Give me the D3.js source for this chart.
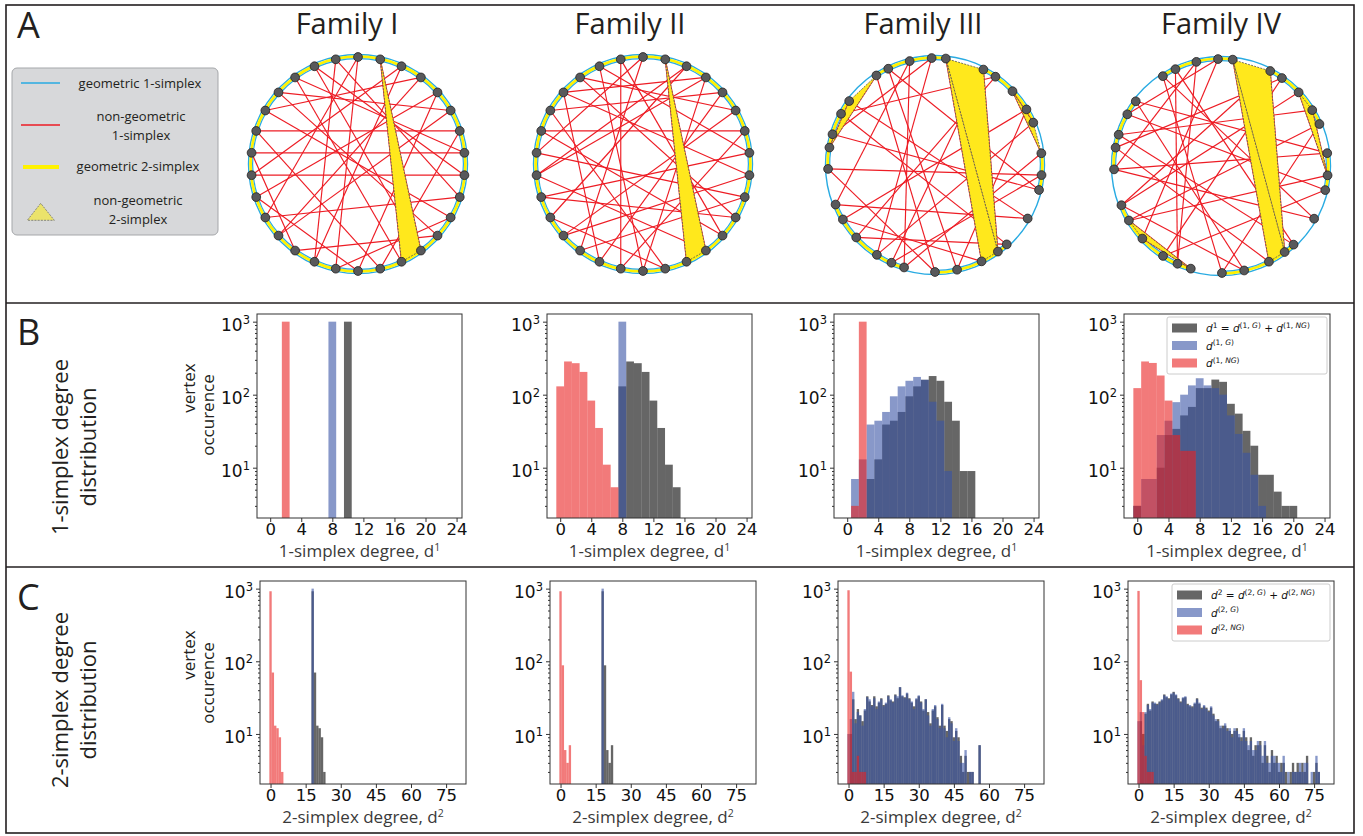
<!DOCTYPE html>
<html><head><meta charset="utf-8">
<script src="https://cdn.jsdelivr.net/npm/d3@7"></script>
<style>body{margin:0;background:#fff}svg{display:block}</style>
</head><body>
<script>
// ---------------- data ----------------
const familyNames = ["Family I", "Family II", "Family III", "Family IV"];

// vertex positions on the ring (degrees, clockwise from 12 o'clock)
const nodeAnglesI   = [0,12,24,36,48,60,72,84,96,108,120,132,144,156,168,180,192,204,216,228,240,252,264,276,288,300,312,324,336,348];
const nodeAnglesII  = [0,12,24,36,48,60,72,84,96,108,120,132,144,156,168,180,192,204,216,228,240,252,264,276,288,300,312,324,336,348];
const nodeAnglesIII = [-13.7,-1.8,5.8,26.9,34.4,46.4,58.7,66.7,83.7,95.4,103.5,120,137.9,144,154.2,168.1,180,196.8,204,212.9,227.4,239.4,248.3,267.9,279.4,286.7,298.6,306.7,326.8,334.1];
const nodeAnglesIV  = [-13.3,-1.6,6.3,27.4,34.7,46.5,58.5,66.9,83.1,95,103,119.5,137.3,143.5,153.4,167.5,179.5,196.4,204,212.8,227.3,239.4,248.5,268.2,279.9,287,298.9,307.2,327.1,334.8];

// ring arcs that are missing (index i = arc from node i to node i+1)
const ringBreaksI = [];
const ringBreaksII = [];
const ringBreaksIII = [2,7,10,11,16,22,27];
const ringBreaksIV = [2,7,10,11,16,22,27];

// non-geometric 1-simplices (node index pairs)
const chordsI = [[1,12],[1,13],[0,16],[0,20],[2,17],[2,22],[3,19],[3,25],[4,21],[4,15],[5,19],[5,26],[6,24],[6,14],[7,23],[7,27],[8,22],[8,28],[9,20],[9,29],[10,25],[10,16],[11,26],[11,18],[12,28],[13,27],[14,24],[15,21],[17,29],[18,23]];
const chordsII = [[1,12],[1,13],[0,18],[0,23],[2,20],[3,15],[3,22],[3,26],[4,17],[4,25],[5,19],[6,24],[6,16],[7,21],[7,28],[8,26],[9,18],[9,23],[10,21],[10,27],[11,24],[11,29],[14,25],[14,20],[15,28],[16,29],[17,26],[19,8],[22,2],[5,27],[12,22]];
const chordsIII = [[2,13],[2,14],[3,13],[24,28],[24,27],[5,7],[5,8],[0,17],[0,22],[1,19],[1,25],[4,20],[4,26],[6,21],[6,15],[9,23],[9,18],[10,25],[10,29],[11,22],[11,27],[12,26],[12,20],[15,29],[16,23],[16,28],[17,8],[18,3],[19,7],[21,14]];
const chordsIV = [[2,13],[2,14],[3,13],[5,9],[6,9],[21,17],[20,17],[0,18],[0,23],[1,20],[1,26],[3,22],[4,19],[4,24],[6,25],[7,21],[7,16],[8,23],[8,27],[10,26],[10,19],[11,28],[11,23],[12,25],[12,29],[14,24],[15,27],[15,22],[16,28],[18,29],[21,9],[22,5]];

// non-geometric 2-simplices (node index triples)
const trianglesI = [[1,12,13]];
const trianglesII = [[1,12,13]];
const trianglesIII = [[2,3,13],[2,13,14],[24,27,28],[5,7,8]];
const trianglesIV = [[2,3,13],[2,13,14],[5,6,9],[21,20,17]];

// 1-simplex degree histograms (index = degree, value = vertex count)
const d1TotalI  = [0,0,0,0,0,0,0,0,0,0,1000];
const d1GeoI    = [0,0,0,0,0,0,0,0,1000];
const d1NonGeoI = [0,0,1000];

const d1TotalII  = [0,0,0,0,0,0,0,0,130,285,270,205,83,35,11,5.4];
const d1GeoII    = [0,0,0,0,0,0,0,0,1000];
const d1NonGeoII = [130,285,270,205,83,35,11,5.4];

const d1TotalIII  = [0,0,0,7,13,39,44,58,95,130,160,180,155,80,44,9,9];
const d1GeoIII    = [0,7,13,39,44,58,95,130,155,175,160,80,44,9];
const d1NonGeoIII = [0,3,1000];

const d1TotalIV  = [3,0,0,10,28,34,52,68,123,123,161,150,75,55,32,20,8,8,4.7,3,3];
const d1GeoIV    = [3,7,7,28,44,79,100,134,168,134,123,100,52,29,16,8,3];
const d1NonGeoIV = [123,285,272,183,83,28,17,17];

// 2-simplex degree histograms
const d2TotalI  = [0,0,0,0,0,0,0,0,0,0,0,0,0,0,0,0,0,0,920,70,13,12,9,3];
const d2GeoI    = [0,0,0,0,0,0,0,0,0,0,0,0,0,0,0,0,0,0,1000];
const d2NonGeoI = [920,70,13,12,9,3];

const d2TotalII  = [0,0,0,0,0,0,0,0,0,0,0,0,0,0,0,0,0,0,920,88,6,4,7];
const d2GeoII    = [0,0,0,0,0,0,0,0,0,0,0,0,0,0,0,0,0,0,1000];
const d2NonGeoII = [920,88,6,4,7];

const d2GeoIII    = [10,16,38,14,20,18,13,22,32,30,24,31,22,28,30,24,27,33,30,27,34,33,44,34,31,37,30,28,22,31,34,27,22,30,18,13,22,25,16,12,26,12,9,17,14,8,12,8,4,4,6,0,3,3,0,0,7];
const d2TotalIII  = [0,10,30,16,22,18,15,21,33,28,25,33,24,27,31,25,26,34,29,28,35,31,44,33,32,36,31,27,24,30,33,28,21,30,20,14,21,24,17,13,25,13,11,16,15,9,11,9,5,3,5,3,3,3,0,0,7];
const d2NonGeoIII = [950,72,3,3,5,3,3,3];

const d2GeoIV    = [15,20,7,20,25,22,27,27,25,27,30,34,33,30,36,37,35,30,27,32,33,25,25,23,27,30,27,22,25,22,20,24,18,16,15,13,12,14,11,12,9,12,11,10,8,12,8,7,8,6,6,8,7,5,8,4,4,5,5,4,4,3,5,0,3,0,3,3,3,4,3,4,4,0,3,0,5,3];
const d2TotalIV  = [0,15,10,19,26,21,28,26,26,28,29,35,32,31,35,38,34,31,28,31,32,26,24,24,26,31,26,23,24,23,21,23,19,15,16,12,13,13,12,11,10,11,12,9,9,11,9,6,9,5,7,7,8,4,7,5,3,6,4,5,3,4,4,3,0,3,4,3,4,3,4,3,5,0,0,3,4,3];
const d2NonGeoIV = [930,55,20,5,3,3,3];

const d1Ticks = [0,4,8,12,16,20,24];
const d2Ticks = [0,15,30,45,60,75];
const yMajorTicks = [10,100,1000];
const yMinorTicks = [3,4,5,6,7,8,9,20,30,40,50,60,70,80,90,200,300,400,500,600,700,800,900];

// ---------------- drawing ----------------
const W = 1363, H = 836;
const svg = d3.select("body").append("svg").attr("width", W).attr("height", H)
  .attr("font-family", "'Open Sans', sans-serif");
const defs = svg.append("defs");

const C_BLUE_RING = "#29abe2", C_RED = "#ed1c24", C_YEL = "#ffe81c";
const C_GREY = "#000", C_BLUE = "#3953a5", C_RED_H = "#e92121";

// frame and separators
svg.append("rect").attr("x", 6).attr("y", 5).attr("width", 1348).attr("height", 828)
  .attr("fill", "none").attr("stroke", "#231f20").attr("stroke-width", 1.6);
[303, 567].forEach(y => svg.append("line").attr("x1", 6).attr("x2", 1354).attr("y1", y).attr("y2", y)
  .attr("stroke", "#231f20").attr("stroke-width", 1.6));

// panel letters
[["A", 38], ["B", 345], ["C", 610]].forEach(([t, y]) =>
  svg.append("text").attr("x", 17).attr("y", y).attr("font-size", 36).attr("fill", "#231f20").text(t));

// row labels
function rotLabel(x, y, text, size) {
  svg.append("text").attr("transform", `translate(${x},${y}) rotate(-90)`).attr("text-anchor", "middle")
    .attr("font-size", size).attr("fill", "#231f20").text(text);
}
rotLabel(68, 447, "1-simplex degree", 22);
rotLabel(96, 447, "distribution", 22);
rotLabel(68, 700, "2-simplex degree", 22);
rotLabel(96, 700, "distribution", 22);

// ---- legend of panel A ----
const lg = svg.append("g");
lg.append("rect").attr("x", 12).attr("y", 68).attr("width", 206).attr("height", 167).attr("rx", 5)
  .attr("fill", "#d7d8da").attr("stroke", "#a5a7aa").attr("stroke-width", 1);
lg.append("line").attr("x1", 21).attr("x2", 60).attr("y1", 83).attr("y2", 83).attr("stroke", C_BLUE_RING).attr("stroke-width", 1.5);
lg.append("line").attr("x1", 21).attr("x2", 60).attr("y1", 125).attr("y2", 125).attr("stroke", C_RED).attr("stroke-width", 1.3);
lg.append("line").attr("x1", 23).attr("x2", 59).attr("y1", 167).attr("y2", 167).attr("stroke", "#fff200").attr("stroke-width", 4);
lg.append("path").attr("d", "M40.7,203.3 L27.3,220.3 L54.3,220.3 Z").attr("fill", "#ebe36b")
  .attr("stroke", "#6d6e71").attr("stroke-width", 0.8).attr("stroke-dasharray", "2,1.2");
[["geometric 1-simplex", 140, 88], ["non-geometric", 141, 121], ["1-simplex", 141, 140],
 ["geometric 2-simplex", 138, 171], ["non-geometric", 138, 205], ["2-simplex", 138, 224]].forEach(([t, x, y]) =>
  lg.append("text").attr("x", x).attr("y", y).attr("text-anchor", "middle").attr("font-size", 13)
    .attr("fill", "#231f20").text(t));

// ---- networks ----
const R = 110;
function drawNetwork(cx, cy, angles, breaks, chords, tris) {
  const g = svg.append("g").attr("transform", `translate(${cx},${cy})`);
  const rad = a => a * Math.PI / 180;
  const rn = R - 3;
  const pos = i => [rn * Math.sin(rad(angles[i])), -rn * Math.cos(rad(angles[i]))];
  g.append("circle").attr("r", R - 0.5).attr("fill", "none").attr("stroke", C_BLUE_RING).attr("stroke-width", 1.4);
  const band = d3.arc().innerRadius(R - 4).outerRadius(R - 1.2);
  const inner = d3.arc().innerRadius(R - 5.2).outerRadius(R - 4);
  angles.forEach((a, i) => {
    if (breaks.includes(i)) return;
    let b = angles[(i + 1) % angles.length];
    if (b <= a) b += 360;
    const seg = { startAngle: rad(a), endAngle: rad(b) };
    g.append("path").attr("d", band(seg)).attr("fill", "#fff200");
    g.append("path").attr("d", inner(seg)).attr("fill", C_BLUE_RING);
  });
  chords.forEach(([i, j]) => {
    const [x1, y1] = pos(i), [x2, y2] = pos(j);
    g.append("line").attr("x1", x1).attr("y1", y1).attr("x2", x2).attr("y2", y2)
      .attr("stroke", C_RED).attr("stroke-width", 1.15);
  });
  tris.forEach(t => {
    g.append("path").attr("d", d3.line()(t.map(pos)) + "Z").attr("fill", C_YEL)
      .attr("stroke", "#555").attr("stroke-width", 0.8).attr("stroke-dasharray", "2,1.2");
  });
  angles.forEach((a, i) => {
    const [x, y] = pos(i);
    g.append("circle").attr("cx", x).attr("cy", y).attr("r", 4.4).attr("fill", "#58595b")
      .attr("stroke", "#231f20").attr("stroke-width", 0.8);
  });
}
const titleX = [347, 630, 923, 1221];
titleX.forEach((x, i) => svg.append("text").attr("x", x).attr("y", 34).attr("text-anchor", "middle")
  .attr("font-size", 29).attr("fill", "#231f20").text(familyNames[i]));
drawNetwork(358, 164, nodeAnglesI, ringBreaksI, chordsI, trianglesI);
drawNetwork(643, 164, nodeAnglesII, ringBreaksII, chordsII, trianglesII);
drawNetwork(935, 165, nodeAnglesIII, ringBreaksIII, chordsIII, trianglesIII);
drawNetwork(1221, 166, nodeAnglesIV, ringBreaksIV, chordsIV, trianglesIV);

// ---- histograms ----
let clipId = 0;
function histPanel(box, xDomain, xTicks, total, geo, nonGeo, xLabel, supDigit) {
  const { x0, x1, y0, y1 } = box;
  const x = d3.scaleLinear().domain(xDomain).range([x0, x1]);
  const y = d3.scaleLog().domain([Math.pow(10, 0.311), Math.pow(10, 3.105)]).range([y1, y0]);
  const id = "clip" + (clipId++);
  defs.append("clipPath").attr("id", id).append("rect").attr("x", x0).attr("y", y0).attr("width", x1 - x0).attr("height", y1 - y0);
  const g = svg.append("g");
  const bars = g.append("g").attr("clip-path", `url(#${id})`);
  [[total, C_GREY], [geo, C_BLUE], [nonGeo, C_RED_H]].forEach(([vals, col]) => {
    bars.append("g").selectAll("rect").data(vals.map((v, k) => ({ k, v })).filter(d => d.v > 0)).join("rect")
      .attr("x", d => x(d.k - 0.5)).attr("width", d => x(d.k + 0.5) - x(d.k - 0.5))
      .attr("y", d => y(d.v)).attr("height", d => y1 - y(d.v))
      .attr("fill", col).attr("fill-opacity", 0.6);
  });
  // axes
  const ax = g.append("g").attr("transform", `translate(0,${y1})`)
    .call(d3.axisBottom(x).tickValues(xTicks).tickSize(4).tickPadding(1).tickSizeOuter(0));
  ax.select(".domain").remove();
  ax.selectAll("text").attr("font-family", "'DejaVu Sans', sans-serif").attr("font-size", 16.5).attr("fill", "#111");
  ax.selectAll("line").attr("stroke", "#333");
  const ay = g.append("g").attr("transform", `translate(${x0},0)`)
    .call(d3.axisLeft(y).tickValues(yMajorTicks).tickSize(4).tickPadding(3).tickSizeOuter(0));
  ay.select(".domain").remove();
  ay.selectAll("line").attr("stroke", "#333");
  ay.selectAll(".tick text").each(function (d) {
    const t = d3.select(this);
    t.text(null).attr("font-family", "'DejaVu Sans', sans-serif").attr("font-size", 17).attr("fill", "#111").attr("dy", "0.5em");
    t.append("tspan").text("10");
    t.append("tspan").attr("dy", -7).attr("font-size", 11.5).text(Math.round(Math.log10(d)));
  });
  const am = g.append("g").attr("transform", `translate(${x0},0)`)
    .call(d3.axisLeft(y).tickValues(yMinorTicks).tickSize(2).tickFormat(""));
  am.select(".domain").remove();
  am.selectAll("line").attr("stroke", "#333");
  g.append("rect").attr("x", x0).attr("y", y0).attr("width", x1 - x0).attr("height", y1 - y0)
    .attr("fill", "none").attr("stroke", "#333").attr("stroke-width", 1);
  const lab = g.append("text").attr("x", (x0 + x1) / 2).attr("y", y1 + 39).attr("text-anchor", "middle")
    .attr("font-size", 17).attr("fill", "#3a3a3a");
  lab.append("tspan").text(xLabel);
  lab.append("tspan").attr("dy", -6).attr("font-size", 10.5).text(supDigit);
}

const boxesB = [
  { x0: 257, x1: 462, y0: 314, y1: 518 },
  { x0: 547, x1: 752, y0: 314, y1: 518 },
  { x0: 834, x1: 1039, y0: 314, y1: 518 },
  { x0: 1124, x1: 1330, y0: 314, y1: 518 }];
const boxesC = [
  { x0: 260, x1: 466, y0: 581, y1: 784 },
  { x0: 550, x1: 756, y0: 581, y1: 784 },
  { x0: 838, x1: 1044, y0: 581, y1: 784 },
  { x0: 1128, x1: 1334, y0: 581, y1: 784 }];
const d1Sets = [[d1TotalI, d1GeoI, d1NonGeoI], [d1TotalII, d1GeoII, d1NonGeoII], [d1TotalIII, d1GeoIII, d1NonGeoIII], [d1TotalIV, d1GeoIV, d1NonGeoIV]];
const d2Sets = [[d2TotalI, d2GeoI, d2NonGeoI], [d2TotalII, d2GeoII, d2NonGeoII], [d2TotalIII, d2GeoIII, d2NonGeoIII], [d2TotalIV, d2GeoIV, d2NonGeoIV]];
d1Sets.forEach((s, i) => histPanel(boxesB[i], [-1.7, 24.7], d1Ticks, s[0], s[1], s[2], "1-simplex degree, d", "1"));
d2Sets.forEach((s, i) => histPanel(boxesC[i], [-4.5, 83.5], d2Ticks, s[0], s[1], s[2], "2-simplex degree, d", "2"));

// y-axis titles for the first column
[[388, 415], [655, 683]].forEach(([a, b]) => {
  svg.append("text").attr("transform", `translate(195,${a}) rotate(-90)`).attr("text-anchor", "middle")
    .attr("font-size", 17).attr("fill", "#231f20").text("vertex");
  svg.append("text").attr("transform", `translate(214,${b}) rotate(-90)`).attr("text-anchor", "middle")
    .attr("font-size", 17).attr("fill", "#231f20").text("occurence");
});

// ---- legends inside the last column ----
function mathText(sel, parts) {
  let level = 0;
  parts.forEach(p => {
    const lv = p.sup ? 1 : 0;
    const ts = sel.append("tspan").text(p.t);
    if (lv !== level) { ts.attr("dy", lv ? -4.5 : 4.5); level = lv; }
    if (p.sup) ts.attr("font-size", 7.5);
    if (p.it) ts.attr("font-style", "italic");
  });
}
function histLegend(bx, by, bw, bh, order) {
  const g = svg.append("g");
  g.append("rect").attr("x", bx).attr("y", by).attr("width", bw).attr("height", bh).attr("rx", 2)
    .attr("fill", "#fff").attr("fill-opacity", 0.85).attr("stroke", "#cccccc");
  const cols = [C_GREY, C_BLUE, C_RED_H];
  order.forEach((parts, i) => {
    const yy = by + 6.5 + i * 17.5;
    g.append("rect").attr("x", bx + 5).attr("y", yy).attr("width", 25).attr("height", 9)
      .attr("fill", cols[i]).attr("fill-opacity", 0.6);
    const t = g.append("text").attr("x", bx + 39).attr("y", yy + 8.5).attr("font-family", "'DejaVu Sans', sans-serif")
      .attr("font-size", 10.5).attr("fill", "#111");
    mathText(t, parts);
  });
}
function legendParts(n) {
  return [
    [{ t: "d", it: 1 }, { t: String(n), sup: 1 }, { t: " = " }, { t: "d", it: 1 }, { t: `(${n}, `, sup: 1 }, { t: "G", sup: 1, it: 1 }, { t: ")", sup: 1 },
     { t: " + " }, { t: "d", it: 1 }, { t: `(${n}, `, sup: 1 }, { t: "NG", sup: 1, it: 1 }, { t: ")", sup: 1 }],
    [{ t: "d", it: 1 }, { t: `(${n}, `, sup: 1 }, { t: "G", sup: 1, it: 1 }, { t: ")", sup: 1 }],
    [{ t: "d", it: 1 }, { t: `(${n}, `, sup: 1 }, { t: "NG", sup: 1, it: 1 }, { t: ")", sup: 1 }]];
}
histLegend(1167, 317, 160, 57, legendParts(1));
histLegend(1172, 584, 158, 57, legendParts(2));
</script>
</body></html>
